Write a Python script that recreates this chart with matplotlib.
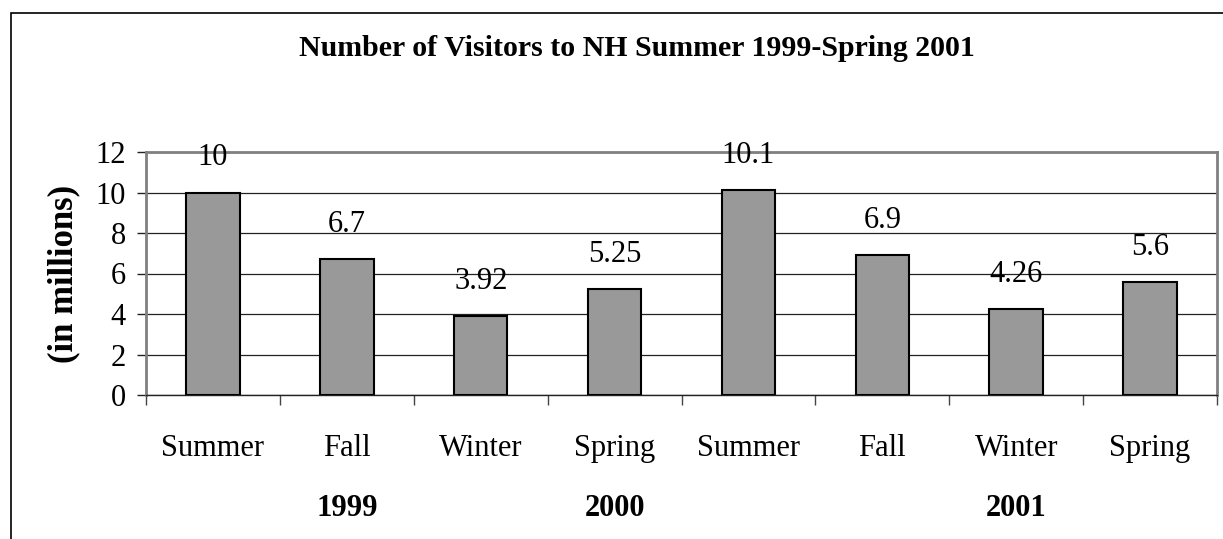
import numpy as np
import matplotlib
matplotlib.use("Agg")
import matplotlib.pyplot as plt
from matplotlib.patches import Rectangle

seasons = ["Summer", "Fall", "Winter", "Spring", "Summer", "Fall", "Winter", "Spring"]
visitors = [10, 6.7, 3.92, 5.25, 10.1, 6.9, 4.26, 5.6]
value_labels = ["10", "6.7", "3.92", "5.25", "10.1", "6.9", "4.26", "5.6"]
years = ["1999", "2000", "2001"]
year_idx = [1, 3, 6]
yticks = [0, 2, 4, 6, 8, 10, 12]

plt.rcParams['font.family'] = ['Liberation Serif', 'DejaVu Serif']

fig = plt.figure(figsize=(12.23, 5.39), dpi=100)
ax = fig.add_axes([146/1223, 1-395/539, (1217-146)/1223, (395-152)/539])

x = np.arange(len(seasons))
ax.bar(x, visitors, width=0.4, color='#999999', edgecolor='black', linewidth=1.5, zorder=3)

for xi, v, lab in zip(x, visitors, value_labels):
    ax.annotate(lab, (xi, v), xytext=(0, 19.5), textcoords='offset points',
                ha='center', va='baseline', fontsize=22, zorder=4)

ax.set_xlim(-0.5, len(seasons) - 0.5)
ax.set_ylim(0, 12)
ax.set_yticks(yticks)
ax.set_yticklabels([str(t) for t in yticks], fontsize=22)
ax.yaxis.grid(True, color='#222222', linewidth=0.9, zorder=0)

# ticks between categories, labels at centers
ax.set_xticks(np.arange(len(seasons) + 1) - 0.5)
ax.set_xticklabels([])
ax.set_xticks(x, minor=True)
ax.set_xticklabels(seasons, minor=True, fontsize=22)
for lab in ax.get_xticklabels(minor=True):
    lab.set_verticalalignment('baseline')
ax.tick_params(axis='x', which='major', length=7.5, width=1, color='#444444', direction='out')
ax.tick_params(axis='x', which='minor', length=0, pad=44)
ax.tick_params(axis='y', length=6.5, width=1, color='#222222', pad=8)

for yr, i in zip(years, year_idx):
    ax.text(i, -0.498, yr, transform=ax.get_xaxis_transform(), ha='center',
            va='baseline', fontsize=22, fontweight='bold')

for side in ['top', 'right', 'left']:
    ax.spines[side].set_color('#808080')
    ax.spines[side].set_linewidth(2)
ax.spines['bottom'].set_color('#222222')
ax.spines['bottom'].set_linewidth(1)

ax.set_ylabel("(in millions)", fontsize=25, fontweight='bold')
ax.yaxis.set_label_coords(-0.0616, 0.5)

fig.text(637/1223, 1-49/539, "Number of Visitors to NH Summer 1999-Spring 2001",
         ha='center', va='center', fontsize=21.5, fontweight='bold')

# outer chart frame (runs off the right and bottom of the image)
fig.add_artist(Rectangle((11/1223, -0.2), 1.2, 1.2 - 13/539,
                         transform=fig.transFigure, fill=False, edgecolor='black',
                         linewidth=1.2, clip_on=False))

fig.savefig("out.png", dpi=100)
